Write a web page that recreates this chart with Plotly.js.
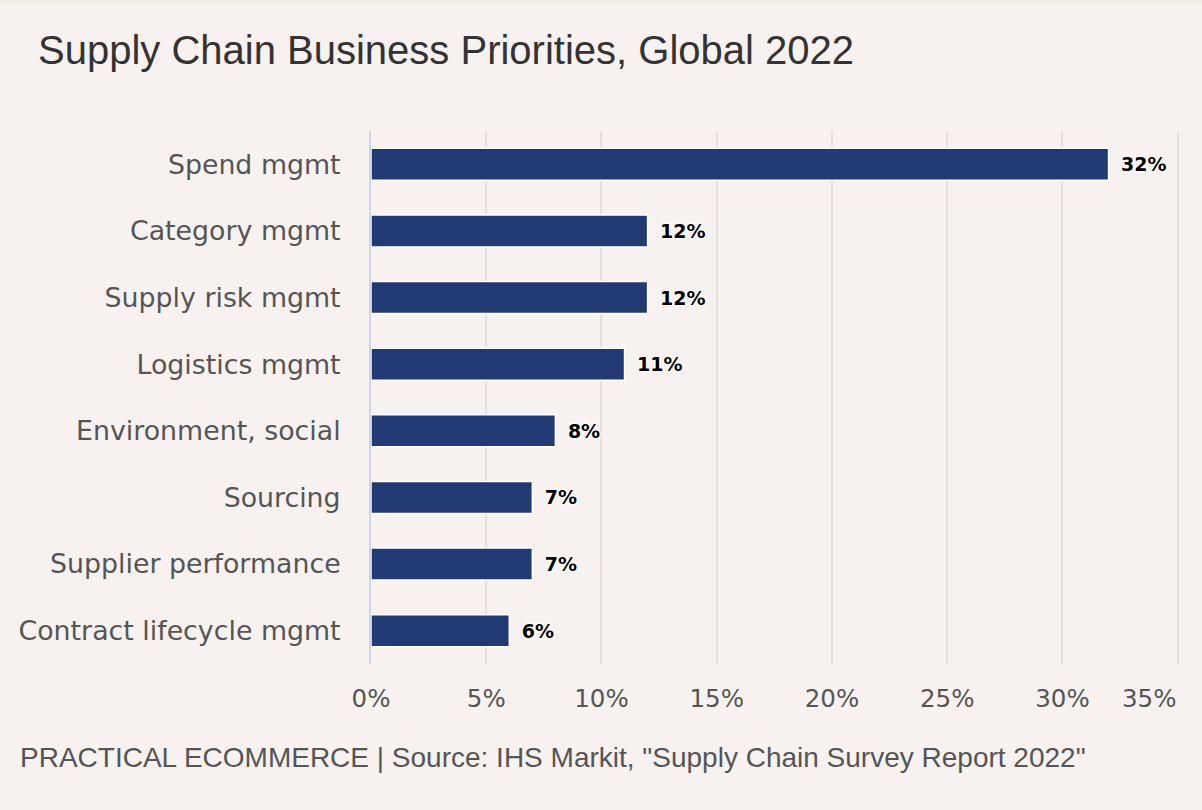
<!DOCTYPE html>
<html>
<head>
<meta charset="utf-8">
<script src="https://cdn.plot.ly/plotly-3.0.1.min.js"></script>
<style>
html, body { margin: 0; padding: 0; background: #f7f2ef; }
#topband { position: absolute; left: 0; top: 0; width: 1202px; height: 4px; background: #efede3; z-index: 5; }
#chart { width: 1202px; height: 810px; }
</style>
</head>
<body>
<div id="topband"></div>
<div id="chart"></div>
<script>
const categories = [
  "Spend mgmt",
  "Category mgmt",
  "Supply risk mgmt",
  "Logistics mgmt",
  "Environment, social",
  "Sourcing",
  "Supplier performance",
  "Contract lifecycle mgmt"
];
const values = [32, 12, 12, 11, 8, 7, 7, 6];
const tickVals = [0, 5, 10, 15, 20, 25, 30, 35];
const tickText = ["0%", "5%", "10%", "15%", "20%", "25%", "30%", "35%"];
const titleText = "Supply Chain Business Priorities, Global 2022";
const footerText = 'PRACTICAL ECOMMERCE | Source: IHS Markit, "Supply Chain Survey Report 2022"';

const lastIdx = tickText.length - 1;
// the last tick label is drawn right-aligned to its gridline (kept inside the chart, like the original)
const shownTickText = tickText.map((t, i) => i === lastIdx ? "" : t);
const tickFont = { family: "DejaVu Sans", size: 24.5, color: "#555555" };

const trace = {
  type: "bar",
  orientation: "h",
  y: categories,
  x: values,
  marker: { color: "#223a73", line: { color: "#ffffff", width: 1.5 } },
  text: values.map(v => "\u2002" + v + "%"),
  textposition: "outside",
  textfont: { family: "DejaVu Sans", size: 19, color: "#000000", weight: "bold",
              shadow: "1px 1px 1px #fff, -1px -1px 1px #fff, 1px -1px 1px #fff, -1px 1px 1px #fff" },
  cliponaxis: false,
  hoverinfo: "skip"
};

const layout = {
  width: 1202,
  height: 810,
  paper_bgcolor: "#f7f2ef",
  plot_bgcolor: "#f7f2ef",
  margin: { l: 371, r: 22, t: 131, b: 146 },
  bargap: 0.52,
  showlegend: false,
  title: {
    text: titleText,
    x: 38 / 1202, xref: "container", xanchor: "left",
    y: 1 - 50 / 810, yref: "container", yanchor: "middle",
    font: { family: "Liberation Sans, Arial", size: 40, color: "#333333" }
  },
  xaxis: {
    range: [0, 35.1],
    tickvals: tickVals,
    ticktext: shownTickText,
    showgrid: true,
    gridcolor: "#e3e1df",
    gridwidth: 2,
    zeroline: false,
    showline: false,
    ticks: "",
    tickfont: tickFont,
    ticklabelstandoff: 17,
    fixedrange: true
  },
  yaxis: {
    type: "category",
    autorange: "reversed",
    showline: true,
    linecolor: "#ccd6eb",
    linewidth: 2,
    showgrid: false,
    zeroline: false,
    ticks: "",
    ticklabelstandoff: 23,
    tickfont: { family: "DejaVu Sans", size: 26.8, color: "#555555" },
    fixedrange: true
  },
  annotations: [
    {
      text: tickText[lastIdx],
      xref: "x", yref: "paper",
      x: tickVals[lastIdx], xanchor: "right",
      y: -34 / 533, yanchor: "middle",
      showarrow: false,
      font: tickFont
    },
    {
      text: footerText,
      xref: "paper", yref: "paper",
      x: -353 / 809, xanchor: "left",
      y: -93 / 533, yanchor: "middle",
      showarrow: false,
      font: { family: "Liberation Sans, Arial", size: 28, color: "#555555" }
    }
  ]
};

Plotly.newPlot("chart", [trace], layout, { displayModeBar: false, staticPlot: true });
</script>
</body>
</html>
